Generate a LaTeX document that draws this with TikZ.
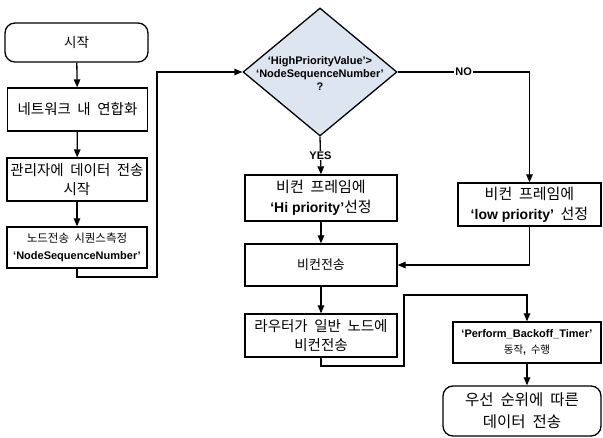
\documentclass[tikz,border=0pt]{standalone}
\usepackage{fontspec}
\setmainfont{Liberation Sans}
\newfontfamily\kr[WordSpace=2.0]{Noto Sans CJK KR}
\usetikzlibrary{shapes.geometric,arrows.meta,calc}
\definecolor{diafill}{RGB}{221,229,241}
\begin{document}
\begin{tikzpicture}[x=1pt,y=-1pt,
  box/.style={draw, line width=1.3pt, fill=white, inner sep=0pt, align=center,
    font=\kr\fontsize{14.5}{19}\selectfont},
  term/.style={box, rounded corners=10pt},
  conn/.style={line width=1.3pt, -{Triangle[length=8pt,width=6.5pt]}},
  lbl/.style={fill=white, inner sep=1pt, font=\bfseries\fontsize{11}{13}\selectfont}]
\useasboundingbox (0,0) rectangle (603,438);
% left column
\node[term, minimum width=143pt, minimum height=39pt, font=\kr\fontsize{13.5}{19}\selectfont] (start) at (76.5,42.5) {시작};
\node[box, minimum width=140pt, minimum height=43pt] (b1) at (77.5,109.5) {네트워크 내 연합화};
\node[box, minimum width=140pt, minimum height=43pt] (b2) at (77,179.5) {관리자에 데이터 전송\\시작};
\node[box, minimum width=140pt, minimum height=41pt, font=\kr\fontsize{11.5}{17}\selectfont] (b3) at (77,247.5)
  {노드전송 시퀀스측정\\{\rmfamily\bfseries\fontsize{11}{17}\selectfont ‘NodeSequenceNumber’}};
% decision
\node[diamond, draw, line width=1.3pt, fill=diafill, inner sep=0pt, aspect=1.2,
  minimum width=154pt, minimum height=128pt] (dia) at (320,72) {};
\node[align=center, inner sep=0pt, font=\bfseries\fontsize{11}{13}\selectfont] (diatext) at (320,74)
  {‘HighPriorityValue’>\\‘NodeSequenceNumber’\\?};
% middle column
\node[box, minimum width=152pt, minimum height=46pt, font=\kr\fontsize{15}{20}\selectfont] (hi) at (321,198)
  {비컨 프레임에\\{\rmfamily\bfseries\fontsize{14}{20}\selectfont ‘Hi priority’}선정};
\node[box, minimum width=152pt, minimum height=42pt, font=\kr\fontsize{13}{19}\selectfont] (bc) at (321,265) {비컨전송};
\node[box, minimum width=152pt, minimum height=43pt] (rt) at (321,335.5) {라우터가 일반 노드에\\비컨전송};
% right column
\node[box, minimum width=143pt, minimum height=43pt, font=\kr\fontsize{15}{20}\selectfont] (lo) at (529.5,204.5)
  {비컨 프레임에\\{\rmfamily\bfseries\fontsize{14}{20}\selectfont ‘low priority’} 선정};
\node[box, minimum width=148pt, minimum height=41pt, font=\kr\fontsize{10.5}{16}\selectfont] (pf) at (527,342.5)
  {{\rmfamily\bfseries\fontsize{11}{16}\selectfont ‘Perform\_Backoff\_Timer’}\\동작{\rmfamily\bfseries ,} 수행};
\node[term, minimum width=158pt, minimum height=50pt, font=\kr\fontsize{15.5}{22}\selectfont] (end) at (522,411)
  {우선 순위에 따른\\데이터 전송};
% helper coordinates
\coordinate (c1) at (77,277);
\coordinate (c2) at (157,277);
\coordinate (d1) at (404,366);
\coordinate (d2) at (404,295);
% connectors
\draw[conn] (start) -- (b1);
\draw[conn] (b1) -- (b2);
\draw[conn] (b2) -- (b3);
\draw[conn] (b3.south) -- (b3.south |- c1) -- (c2) |- (dia.west);
\draw[conn] (dia.south) -- node[lbl]{YES} (hi.north);
\draw[conn] (dia.east) -- node[lbl]{NO} (lo.north |- dia.east) -- (lo.north);
\draw[conn] (hi) -- (bc);
\draw[conn] (lo.south) |- (bc.east);
\draw[conn] (bc) -- (rt);
\draw[conn] (rt.south) |- (d1) -- (d2) -| (pf.north);
\draw[conn] (pf.south) -- (pf.south |- end.north);
\end{tikzpicture}
\end{document}
